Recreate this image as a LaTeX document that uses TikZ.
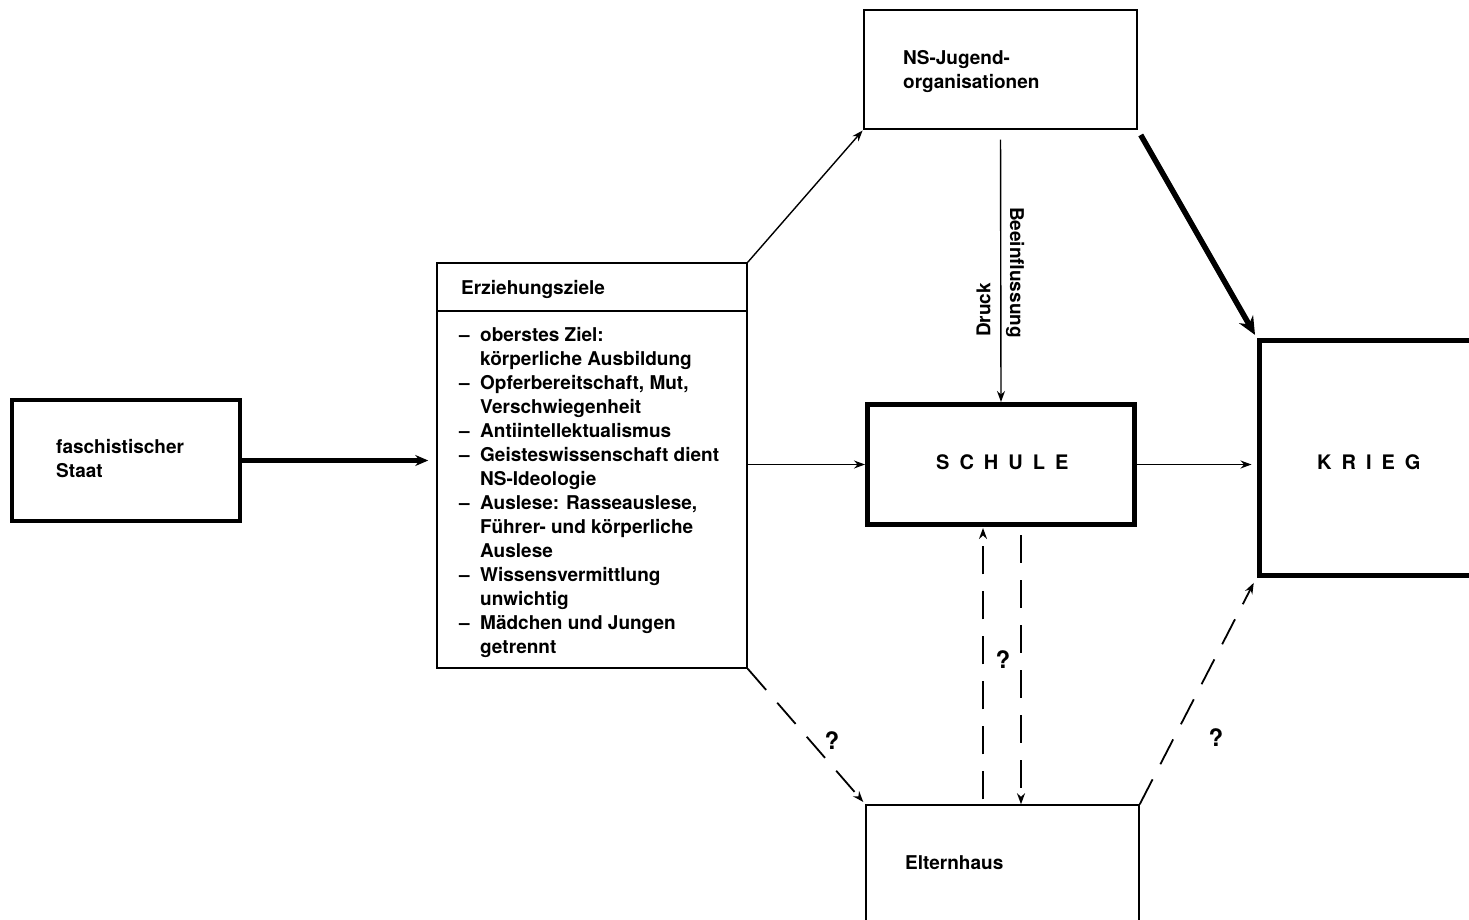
\documentclass[tikz,border=0pt]{standalone}
\usepackage{fontspec}
\setmainfont{TeX Gyre Heros}
\usetikzlibrary{arrows.meta}
% list helpers: leading dash and hanging indent for continuation lines
\newcommand\itm{\makebox[21pt][l]{–}}
\newcommand\cont{\hspace*{21pt}}
\begin{document}
\begin{tikzpicture}[x=1pt,y=-1pt,
  txt/.style={inner sep=0pt, align=left, font=\fontsize{19}{24}\selectfont\bfseries},
  bigtxt/.style={inner sep=0pt, font=\fontsize{20}{24}\selectfont\bfseries},
  query/.style={inner sep=0pt, font=\fontsize{24}{24}\selectfont\bfseries},
  box/.style={draw, line width=1.5pt, rectangle, inner sep=0pt},
  heavybox/.style={box, line width=5pt},
  link/.style={line width=1.4pt, -{Stealth[length=11pt,width=8pt]}},
  heavylink/.style={line width=5.5pt, -{Stealth[length=18pt,width=16pt]}},
  maybe/.style={line width=1.8pt, -{Stealth[length=11pt,width=8pt]}, dash pattern=on 28pt off 17pt}
]
\useasboundingbox (0,0) rectangle (1469,920);
\clip (0,0) rectangle (1469,920);

% boxes
\node[heavybox, line width=4pt, minimum width=228pt, minimum height=121pt] (staat) at (126,460.5) {};
\node[box, minimum width=310pt, minimum height=405pt] (erz) at (592,465.5) {};
\node[box, minimum width=273pt, minimum height=119pt] (ns) at (1000.5,69.5) {};
\node[heavybox, minimum width=267pt, minimum height=120pt] (schule) at (1001,464.5) {};
\node[heavybox, minimum width=261pt, minimum height=235pt] (krieg) at (1389.5,457.5) {};
\node[box, minimum width=273pt, minimum height=195pt] (eltern) at (1002.5,902.5) {};

% header rule of the goals box
\coordinate (hdr) at (0,311);
\draw[line width=1.5pt] (erz.west |- hdr) -- (erz.east |- hdr);

% texts
\node[txt, anchor=north west] (staattext) at (56,439) {faschistischer\\Staat};
\node[txt, anchor=north west] (erzhead) at (461,280) {Erziehungsziele};
\node[txt, anchor=north west] (erzlist) at (459,327) {%
\itm oberstes Ziel:\\
\cont körperliche Ausbildung\\
\itm Opferbereitschaft, Mut,\\
\cont Verschwiegenheit\\
\itm Antiintellektualismus\\
\itm Geisteswissenschaft dient\\
\cont NS-Ideologie\\
\itm Auslese: Rasseauslese,\\
\cont Führer- und körperliche\\
\cont Auslese\\
\itm Wissensvermittlung\\
\cont unwichtig\\
\itm Mädchen und Jungen\\
\cont getrennt};
\node[txt, anchor=north west] (nstext) at (903,50) {NS-Jugend-\\organisationen};
\node[txt, anchor=north west] (elterntext) at (905,855) {Elternhaus};
\node[bigtxt, anchor=west] (schuletext) at (936,462)
  {S\hspace{10pt}C\hspace{10pt}H\hspace{10pt}U\hspace{10pt}L\hspace{10pt}E};
\node[bigtxt, anchor=west] (kriegtext) at (1317,462)
  {K\hspace{10pt}R\hspace{10pt}I\hspace{10pt}E\hspace{10pt}G};
\node[txt, rotate=90] (druck) at (983.5,310) {Druck};
\node[txt, rotate=-90] (beein) at (1015,272.5) {Beeinflussung};
\node[query] (q1) at (832,741) {?};
\node[query] (q2) at (1003,660) {?};
\node[query] (q3) at (1216,738) {?};

% helper abscissae for the two vertical dashed links
\coordinate (xup) at (983,0);
\coordinate (xdown) at (1021,0);

% connectors
\draw[line width=4.5pt, -{Stealth[length=13pt,width=11pt]}, shorten >=8pt]
  (staat.east) -- (staat.east -| erz.west);
\draw[link, shorten >=1pt] (erz.north east) -- (ns.south west);
\draw[link] (schule.west -| erz.east) -- (schule.west);
\draw[link, shorten <=10pt] (ns.south) -- (schule.north);
\draw[heavylink, shorten <=6pt, shorten >=3pt] (ns.south east) -- (krieg.north west);
\draw[link, shorten >=5pt] (schule.east) -- (schule.east -| krieg.west);
\draw[maybe, shorten >=3pt] (erz.south east) -- (eltern.north west);
\draw[maybe, shorten <=5pt, shorten >=1pt] (eltern.north -| xup) -- (schule.south -| xup);
\draw[maybe, shorten <=8pt] (schule.south -| xdown) -- (eltern.north -| xdown);
\draw[maybe, shorten >=6pt] (eltern.north east) -- (krieg.south west);
\end{tikzpicture}
\end{document}
